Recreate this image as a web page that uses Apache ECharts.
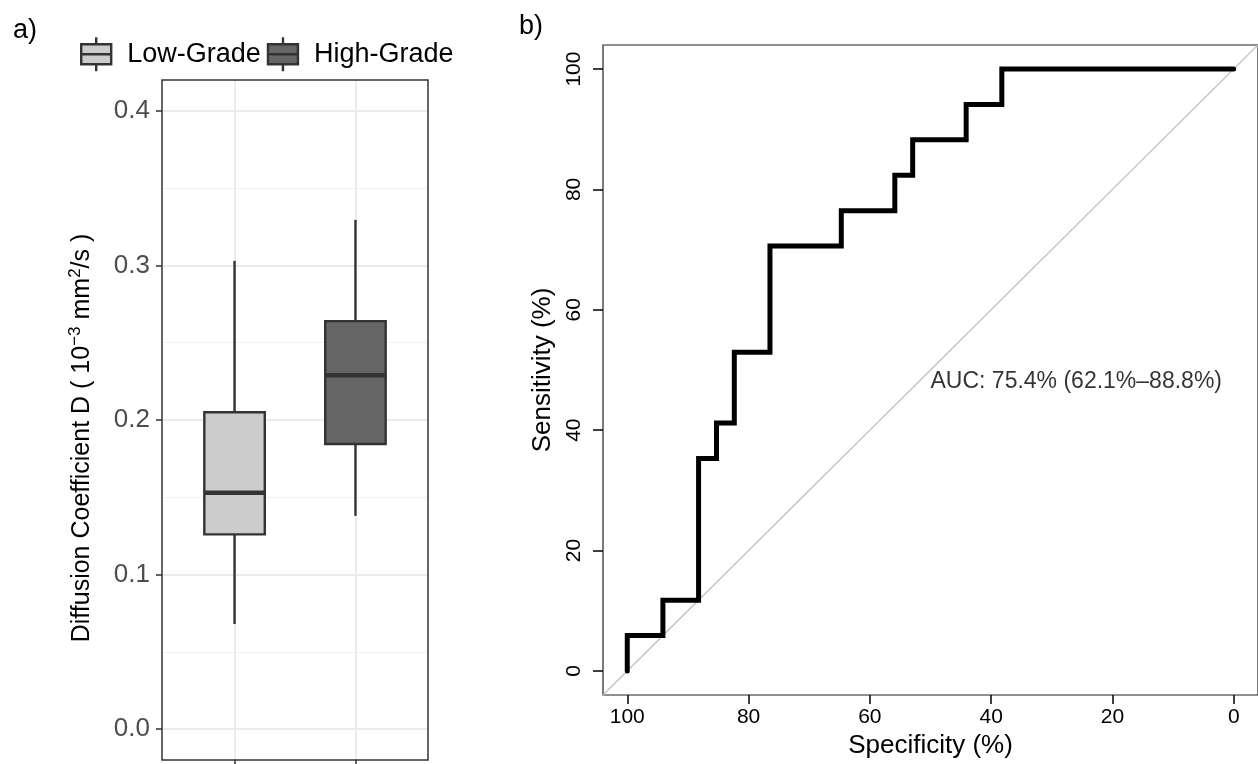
<!DOCTYPE html>
<html>
<head>
<meta charset="utf-8">
<script src="https://cdn.jsdelivr.net/npm/echarts@6/dist/echarts.min.js"></script>
<style>
  html, body { margin: 0; padding: 0; background: #fff; }
  #main { width: 1258px; height: 764px; }
</style>
</head>
<body>
<div id="main"></div>
<script>
// a) boxplot: [x, min, Q1, median, Q3, max]
const categories = ["Low-Grade", "High-Grade"];
const lowGrade = [1, 0.068, 0.126, 0.153, 0.205, 0.303];
const highGrade = [2, 0.138, 0.1845, 0.229, 0.264, 0.3295];
const diffTicks = [0, 0.1, 0.2, 0.3, 0.4];
const diffMinor = [0.05, 0.15, 0.25, 0.35];
const catTicks = [1, 2];

// b) ROC curve
const specificity = [100, 100, 94.12, 94.12, 88.24, 88.24, 85.29, 85.29, 82.35, 82.35, 76.47, 76.47,
  64.71, 64.71, 55.88, 55.88, 52.94, 52.94, 44.12, 44.12, 38.24, 38.24, 0];
const sensitivity = [0, 5.88, 5.88, 11.76, 11.76, 35.29, 35.29, 41.18, 41.18, 52.94, 52.94, 70.59,
  70.59, 76.47, 76.47, 82.35, 82.35, 88.24, 88.24, 94.12, 94.12, 100, 100];
const rocTicks = [0, 20, 40, 60, 80, 100];
const diagSpec = [104, -4];
const diagSens = [-4, 104];
const aucText = "AUC: 75.4% (62.1%–88.8%)";

const chart = echarts.init(document.getElementById("main"));

const boxIcon = "path://M16 0L16 7M1 7L31 7L31 27L1 27ZM1 17L31 17M16 27L16 34";

function renderBox(params, api) {
  const x = api.value(0);
  const half = 0.25;
  const tl = api.coord([x - half, api.value(4)]);
  const br = api.coord([x + half, api.value(2)]);
  const top = api.coord([x, api.value(5)]);
  const bot = api.coord([x, api.value(1)]);
  const med = api.coord([x, api.value(3)]);
  const line = { stroke: "#333333", lineWidth: 2.4 };
  return {
    type: "group",
    children: [
      { type: "line", shape: { x1: top[0], y1: top[1], x2: top[0], y2: tl[1] }, style: line },
      { type: "line", shape: { x1: bot[0], y1: bot[1], x2: bot[0], y2: br[1] }, style: line },
      {
        type: "rect",
        shape: { x: tl[0], y: tl[1], width: br[0] - tl[0], height: br[1] - tl[1] },
        style: { fill: api.visual("color"), stroke: "#333333", lineWidth: 2.4 }
      },
      { type: "line", shape: { x1: tl[0], y1: med[1], x2: br[0], y2: med[1] }, style: { stroke: "#333333", lineWidth: 4.5 } }
    ]
  };
}

const gridLines = []
  .concat(diffTicks.map(v => ({ yAxis: v, lineStyle: { color: "#ebebeb", width: 2, type: "solid" } })))
  .concat(diffMinor.map(v => ({ yAxis: v, lineStyle: { color: "#f0f0f0", width: 1, type: "solid" } })))
  .concat(catTicks.map(v => ({ xAxis: v, lineStyle: { color: "#ebebeb", width: 2, type: "solid" } })));

chart.setOption({
  animation: false,
  textStyle: { fontFamily: "Liberation Sans" },
  title: [
    { text: "a)", left: 8, top: 12, textStyle: { fontSize: 27, fontWeight: "normal", color: "#000" } },
    { text: "b)", left: 514, top: 8, textStyle: { fontSize: 27, fontWeight: "normal", color: "#000" } }
  ],
  legend: {
    left: 75,
    top: 31,
    itemWidth: 32,
    itemHeight: 34,
    itemGap: 6,
    textStyle: { fontSize: 27, color: "#000", padding: [0, 0, 0, 10] },
    data: [
      { name: categories[0], icon: boxIcon, itemStyle: { color: "#cccccc", borderColor: "#333333", borderWidth: 2.4 } },
      { name: categories[1], icon: boxIcon, itemStyle: { color: "#666666", borderColor: "#333333", borderWidth: 2.4 } }
    ]
  },
  grid: [
    { left: 162, top: 80, width: 266, height: 680, show: true, z: 10, borderColor: "#333333", borderWidth: 1.5, backgroundColor: "transparent" },
    { left: 603, top: 45, width: 655, height: 652, show: true, borderColor: "#222222", borderWidth: 1.2 }
  ],
  xAxis: [
    {
      gridIndex: 0, type: "value", min: 0.4, max: 2.6,
      axisLine: { show: false, onZero: false },
      axisTick: { show: true, customValues: catTicks, length: 5, lineStyle: { color: "#333333", width: 1.5 } },
      axisLabel: { show: false },
      splitLine: { show: false }
    },
    {
      gridIndex: 1, type: "value", min: -4, max: 104, inverse: true,
      axisLine: { show: false, onZero: false },
      axisTick: { show: true, customValues: rocTicks, length: 9, lineStyle: { color: "#000", width: 1.5 } },
      axisLabel: { customValues: rocTicks, fontSize: 21, color: "#000", margin: 12 },
      splitLine: { show: false },
      name: "Specificity (%)", nameLocation: "middle", nameGap: 38,
      nameTextStyle: { fontSize: 26, color: "#000" }
    }
  ],
  yAxis: [
    {
      gridIndex: 0, type: "value", min: -0.02, max: 0.42,
      axisLine: { show: false, onZero: false },
      axisTick: { show: true, customValues: diffTicks, length: 6, lineStyle: { color: "#333333", width: 1.5 } },
      axisLabel: { customValues: diffTicks, formatter: v => v.toFixed(1), fontSize: 26, color: "#4d4d4d", margin: 12 },
      splitLine: { show: false },
      name: "Diffusion Coefficient D ( 10{sup|−3} mm{sup|2}/s )",
      nameLocation: "middle", nameGap: 64,
      nameTextStyle: {
        fontSize: 25, color: "#000", padding: [0, 36, 0, 0],
        rich: { sup: { fontSize: 17, color: "#000", padding: [0, 0, 14, 0] } }
      }
    },
    {
      gridIndex: 1, type: "value", min: -4, max: 104,
      axisLine: { show: false, onZero: false },
      axisTick: { show: true, customValues: rocTicks, length: 10, lineStyle: { color: "#000", width: 1.5 } },
      axisLabel: { customValues: rocTicks, rotate: 90, fontSize: 21, color: "#000", margin: 18 },
      splitLine: { show: false },
      name: "Sensitivity (%)", nameLocation: "middle", nameGap: 44,
      nameTextStyle: { fontSize: 26, color: "#000" }
    }
  ],
  series: [
    {
      name: "grid", type: "line", xAxisIndex: 0, yAxisIndex: 0, data: [],
      markLine: { silent: true, z: 1, symbol: ["none", "none"], label: { show: false }, data: gridLines }
    },
    {
      name: categories[0], type: "custom", xAxisIndex: 0, yAxisIndex: 0, z: 3,
      itemStyle: { color: "#cccccc" },
      encode: { x: 0, y: [1, 2, 3, 4, 5] },
      renderItem: renderBox,
      data: [lowGrade]
    },
    {
      name: categories[1], type: "custom", xAxisIndex: 0, yAxisIndex: 0, z: 3,
      itemStyle: { color: "#666666" },
      encode: { x: 0, y: [1, 2, 3, 4, 5] },
      renderItem: renderBox,
      data: [highGrade]
    },
    {
      type: "line", xAxisIndex: 1, yAxisIndex: 1, symbol: "none", silent: true,
      lineStyle: { color: "#bebebe", width: 1.2 },
      data: diagSpec.map((s, i) => [s, diagSens[i]])
    },
    {
      type: "line", xAxisIndex: 1, yAxisIndex: 1, symbol: "none", silent: true,
      lineStyle: { color: "#000", width: 5, cap: "round", join: "miter" },
      data: specificity.map((s, i) => [s, sensitivity[i]])
    },
    {
      type: "scatter", xAxisIndex: 1, yAxisIndex: 1, symbolSize: 0, silent: true,
      label: { show: true, formatter: aucText, position: [0, 0], align: "left", verticalAlign: "top", fontSize: 23, color: "#000" },
      data: [[50, 50]]
    }
  ]
});
</script>
</body>
</html>
